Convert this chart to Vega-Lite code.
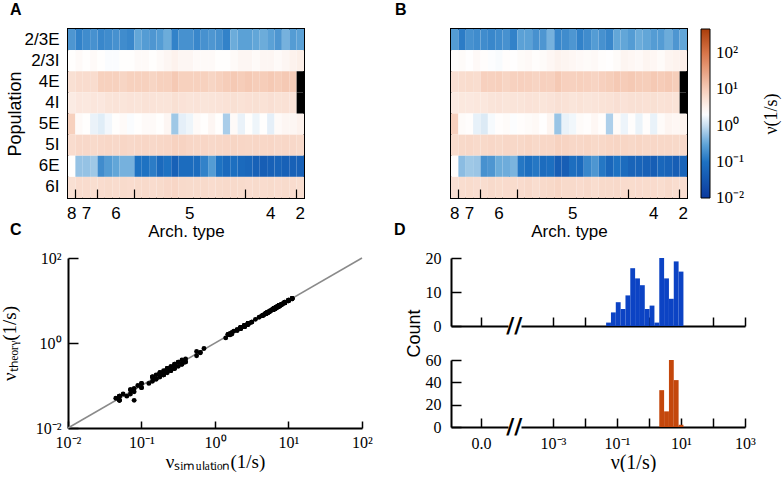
{
"$schema": "https://vega.github.io/schema/vega-lite/v6.json",
"padding": {"left": 0, "top": 1, "right": 0, "bottom": 0},
"bounds": "flush",
"columns": 2,
"spacing": {"row": 60, "column": 89},
"datasets": {
"cells": [
{"i":0,"p":"2/3E","a":0.224,"b":0.251},{"i":1,"p":"2/3E","a":0.141,"b":0.126},{"i":2,"p":"2/3E","a":0.178,"b":0.2},{"i":3,"p":"2/3E","a":0.2,"b":0.178},{"i":4,"p":"2/3E","a":0.158,"b":0.178},{"i":5,"p":"2/3E","a":0.178,"b":0.158},{"i":6,"p":"2/3E","a":0.2,"b":0.178},{"i":7,"p":"2/3E","a":0.178,"b":0.2},{"i":8,"p":"2/3E","a":0.158,"b":0.141},{"i":9,"p":"2/3E","a":0.316,"b":0.282},{"i":10,"p":"2/3E","a":0.251,"b":0.282},{"i":11,"p":"2/3E","a":0.224,"b":0.2},{"i":12,"p":"2/3E","a":0.251,"b":0.224},{"i":13,"p":"2/3E","a":0.355,"b":0.398},{"i":14,"p":"2/3E","a":0.141,"b":0.158},{"i":15,"p":"2/3E","a":0.2,"b":0.178},{"i":16,"p":"2/3E","a":0.2,"b":0.224},{"i":17,"p":"2/3E","a":0.158,"b":0.141},{"i":18,"p":"2/3E","a":0.2,"b":0.178},{"i":19,"p":"2/3E","a":0.224,"b":0.251},{"i":20,"p":"2/3E","a":0.2,"b":0.2},{"i":21,"p":"2/3E","a":0.141,"b":0.158},{"i":22,"p":"2/3E","a":0.355,"b":0.316},{"i":23,"p":"2/3E","a":0.282,"b":0.316},{"i":24,"p":"2/3E","a":0.282,"b":0.251},{"i":25,"p":"2/3E","a":0.316,"b":0.355},{"i":26,"p":"2/3E","a":0.355,"b":0.316},{"i":27,"p":"2/3E","a":0.282,"b":0.251},{"i":28,"p":"2/3E","a":0.224,"b":0.251},{"i":29,"p":"2/3E","a":0.398,"b":0.355},{"i":30,"p":"2/3E","a":0.251,"b":0.224},{"i":31,"p":"2/3E","a":0.282,"b":0.316},
{"i":0,"p":"2/3I","a":2.24,"b":2.3},{"i":1,"p":"2/3I","a":2.51,"b":2.45},{"i":2,"p":"2/3I","a":2.24,"b":2.2},{"i":3,"p":"2/3I","a":2.51,"b":2.55},{"i":4,"p":"2/3I","a":2.24,"b":2.3},{"i":5,"p":"2/3I","a":2.0,"b":2.05},{"i":6,"p":"2/3I","a":2.0,"b":1.95},{"i":7,"p":"2/3I","a":2.24,"b":2.3},{"i":8,"p":"2/3I","a":2.24,"b":2.2},{"i":9,"p":"2/3I","a":2.51,"b":2.45},{"i":10,"p":"2/3I","a":2.51,"b":2.55},{"i":11,"p":"2/3I","a":2.24,"b":2.3},{"i":12,"p":"2/3I","a":2.51,"b":2.45},{"i":13,"p":"2/3I","a":2.82,"b":2.75},{"i":14,"p":"2/3I","a":3.16,"b":3.1},{"i":15,"p":"2/3I","a":2.82,"b":2.9},{"i":16,"p":"2/3I","a":2.82,"b":2.75},{"i":17,"p":"2/3I","a":2.51,"b":2.55},{"i":18,"p":"2/3I","a":2.51,"b":2.45},{"i":19,"p":"2/3I","a":2.51,"b":2.55},{"i":20,"p":"2/3I","a":2.24,"b":2.3},{"i":21,"p":"2/3I","a":2.24,"b":2.2},{"i":22,"p":"2/3I","a":2.51,"b":2.45},{"i":23,"p":"2/3I","a":2.82,"b":2.9},{"i":24,"p":"2/3I","a":2.82,"b":2.75},{"i":25,"p":"2/3I","a":2.51,"b":2.55},{"i":26,"p":"2/3I","a":2.82,"b":2.9},{"i":27,"p":"2/3I","a":2.82,"b":2.75},{"i":28,"p":"2/3I","a":2.51,"b":2.45},{"i":29,"p":"2/3I","a":2.82,"b":2.9},{"i":30,"p":"2/3I","a":3.16,"b":3.1},{"i":31,"p":"2/3I","a":3.55,"b":3.6},
{"i":0,"p":"4E","a":5.62,"b":5.7},{"i":1,"p":"4E","a":6.31,"b":6.2},{"i":2,"p":"4E","a":6.31,"b":6.4},{"i":3,"p":"4E","a":6.31,"b":6.2},{"i":4,"p":"4E","a":8.91,"b":9.0},{"i":5,"p":"4E","a":8.91,"b":8.8},{"i":6,"p":"4E","a":8.91,"b":9.1},{"i":7,"p":"4E","a":7.94,"b":7.8},{"i":8,"p":"4E","a":8.91,"b":8.8},{"i":9,"p":"4E","a":8.91,"b":9.0},{"i":10,"p":"4E","a":8.91,"b":8.8},{"i":11,"p":"4E","a":7.94,"b":8.1},{"i":12,"p":"4E","a":8.91,"b":9.0},{"i":13,"p":"4E","a":8.91,"b":8.8},{"i":14,"p":"4E","a":11.2,"b":11.0},{"i":15,"p":"4E","a":8.91,"b":9.0},{"i":16,"p":"4E","a":8.91,"b":8.8},{"i":17,"p":"4E","a":8.91,"b":9.1},{"i":18,"p":"4E","a":8.91,"b":8.8},{"i":19,"p":"4E","a":7.94,"b":8.1},{"i":20,"p":"4E","a":8.91,"b":9.0},{"i":21,"p":"4E","a":10.0,"b":9.8},{"i":22,"p":"4E","a":11.2,"b":11.1},{"i":23,"p":"4E","a":10.0,"b":10.2},{"i":24,"p":"4E","a":11.2,"b":11.0},{"i":25,"p":"4E","a":10.0,"b":10.1},{"i":26,"p":"4E","a":10.0,"b":9.8},{"i":27,"p":"4E","a":11.2,"b":11.1},{"i":28,"p":"4E","a":10.0,"b":10.2},{"i":29,"p":"4E","a":11.2,"b":11.0},{"i":30,"p":"4E","a":10.0,"b":9.8},{"i":31,"p":"4E","a":null,"b":null},
{"i":0,"p":"4I","a":3.98,"b":4.05},{"i":1,"p":"4I","a":4.47,"b":4.4},{"i":2,"p":"4I","a":4.3,"b":4.35},{"i":3,"p":"4I","a":4.6,"b":4.55},{"i":4,"p":"4I","a":4.47,"b":4.5},{"i":5,"p":"4I","a":4.9,"b":4.95},{"i":6,"p":"4I","a":5.1,"b":5.05},{"i":7,"p":"4I","a":4.8,"b":4.85},{"i":8,"p":"4I","a":5.01,"b":4.95},{"i":9,"p":"4I","a":4.9,"b":4.95},{"i":10,"p":"4I","a":5.25,"b":5.2},{"i":11,"p":"4I","a":5.1,"b":5.15},{"i":12,"p":"4I","a":4.9,"b":4.85},{"i":13,"p":"4I","a":5.0,"b":5.05},{"i":14,"p":"4I","a":5.62,"b":5.55},{"i":15,"p":"4I","a":5.2,"b":5.25},{"i":16,"p":"4I","a":4.9,"b":4.85},{"i":17,"p":"4I","a":5.1,"b":5.15},{"i":18,"p":"4I","a":4.8,"b":4.85},{"i":19,"p":"4I","a":5.0,"b":4.95},{"i":20,"p":"4I","a":5.1,"b":5.15},{"i":21,"p":"4I","a":5.3,"b":5.25},{"i":22,"p":"4I","a":5.62,"b":5.7},{"i":23,"p":"4I","a":5.25,"b":5.2},{"i":24,"p":"4I","a":5.5,"b":5.55},{"i":25,"p":"4I","a":5.62,"b":5.55},{"i":26,"p":"4I","a":5.3,"b":5.35},{"i":27,"p":"4I","a":5.7,"b":5.65},{"i":28,"p":"4I","a":5.25,"b":5.3},{"i":29,"p":"4I","a":5.4,"b":5.35},{"i":30,"p":"4I","a":5.1,"b":5.15},{"i":31,"p":"4I","a":null,"b":null},
{"i":0,"p":"5E","a":8.91,"b":9.0},{"i":1,"p":"5E","a":2.51,"b":2.45},{"i":2,"p":"5E","a":2.24,"b":2.3},{"i":3,"p":"5E","a":1.6,"b":1.55},{"i":4,"p":"5E","a":1.4,"b":1.32},{"i":5,"p":"5E","a":1.8,"b":1.9},{"i":6,"p":"5E","a":2.24,"b":2.3},{"i":7,"p":"5E","a":2.51,"b":2.45},{"i":8,"p":"5E","a":2.0,"b":2.05},{"i":9,"p":"5E","a":2.24,"b":2.3},{"i":10,"p":"5E","a":2.51,"b":2.45},{"i":11,"p":"5E","a":2.51,"b":2.6},{"i":12,"p":"5E","a":2.24,"b":2.2},{"i":13,"p":"5E","a":2.82,"b":2.9},{"i":14,"p":"5E","a":0.631,"b":0.59},{"i":15,"p":"5E","a":1.5,"b":1.58},{"i":16,"p":"5E","a":1.7,"b":1.78},{"i":17,"p":"5E","a":2.51,"b":2.45},{"i":18,"p":"5E","a":2.24,"b":2.3},{"i":19,"p":"5E","a":2.82,"b":2.75},{"i":20,"p":"5E","a":2.24,"b":2.3},{"i":21,"p":"5E","a":0.708,"b":0.74},{"i":22,"p":"5E","a":2.51,"b":2.45},{"i":23,"p":"5E","a":1.6,"b":1.68},{"i":24,"p":"5E","a":2.24,"b":2.3},{"i":25,"p":"5E","a":1.7,"b":1.62},{"i":26,"p":"5E","a":2.24,"b":2.3},{"i":27,"p":"5E","a":1.5,"b":1.58},{"i":28,"p":"5E","a":2.51,"b":2.45},{"i":29,"p":"5E","a":2.82,"b":2.9},{"i":30,"p":"5E","a":2.82,"b":2.75},{"i":31,"p":"5E","a":3.16,"b":3.1},
{"i":0,"p":"5I","a":6.31,"b":6.4},{"i":1,"p":"5I","a":7.08,"b":7.0},{"i":2,"p":"5I","a":7.08,"b":7.2},{"i":3,"p":"5I","a":6.8,"b":6.7},{"i":4,"p":"5I","a":7.08,"b":7.0},{"i":5,"p":"5I","a":7.3,"b":7.4},{"i":6,"p":"5I","a":7.08,"b":7.0},{"i":7,"p":"5I","a":7.5,"b":7.4},{"i":8,"p":"5I","a":7.08,"b":7.2},{"i":9,"p":"5I","a":7.3,"b":7.2},{"i":10,"p":"5I","a":7.5,"b":7.6},{"i":11,"p":"5I","a":7.08,"b":7.0},{"i":12,"p":"5I","a":7.3,"b":7.4},{"i":13,"p":"5I","a":7.5,"b":7.4},{"i":14,"p":"5I","a":8.5,"b":8.6},{"i":15,"p":"5I","a":8.2,"b":8.1},{"i":16,"p":"5I","a":7.5,"b":7.4},{"i":17,"p":"5I","a":7.3,"b":7.4},{"i":18,"p":"5I","a":7.5,"b":7.6},{"i":19,"p":"5I","a":7.08,"b":7.0},{"i":20,"p":"5I","a":7.3,"b":7.2},{"i":21,"p":"5I","a":7.5,"b":7.6},{"i":22,"p":"5I","a":7.9,"b":7.8},{"i":23,"p":"5I","a":7.5,"b":7.6},{"i":24,"p":"5I","a":7.3,"b":7.2},{"i":25,"p":"5I","a":7.5,"b":7.6},{"i":26,"p":"5I","a":7.3,"b":7.2},{"i":27,"p":"5I","a":7.5,"b":7.4},{"i":28,"p":"5I","a":7.08,"b":7.2},{"i":29,"p":"5I","a":7.3,"b":7.2},{"i":30,"p":"5I","a":7.08,"b":7.0},{"i":31,"p":"5I","a":6.8,"b":6.9},
{"i":0,"p":"6E","a":2.24,"b":2.3},{"i":1,"p":"6E","a":0.562,"b":0.5},{"i":2,"p":"6E","a":0.562,"b":0.63},{"i":3,"p":"6E","a":0.631,"b":0.6},{"i":4,"p":"6E","a":0.178,"b":0.2},{"i":5,"p":"6E","a":0.251,"b":0.224},{"i":6,"p":"6E","a":0.316,"b":0.355},{"i":7,"p":"6E","a":0.398,"b":0.36},{"i":8,"p":"6E","a":0.398,"b":0.42},{"i":9,"p":"6E","a":0.1,"b":0.112},{"i":10,"p":"6E","a":0.1,"b":0.0891},{"i":11,"p":"6E","a":0.126,"b":0.112},{"i":12,"p":"6E","a":0.0708,"b":0.0794},{"i":13,"p":"6E","a":0.1,"b":0.0891},{"i":14,"p":"6E","a":0.0501,"b":0.0447},{"i":15,"p":"6E","a":0.0794,"b":0.0447},{"i":16,"p":"6E","a":0.0794,"b":0.0851},{"i":17,"p":"6E","a":0.0794,"b":0.0708},{"i":18,"p":"6E","a":0.141,"b":0.158},{"i":19,"p":"6E","a":0.251,"b":0.224},{"i":20,"p":"6E","a":0.1,"b":0.112},{"i":21,"p":"6E","a":0.0708,"b":0.0631},{"i":22,"p":"6E","a":0.0891,"b":0.1},{"i":23,"p":"6E","a":0.0708,"b":0.0794},{"i":24,"p":"6E","a":0.0631,"b":0.0562},{"i":25,"p":"6E","a":0.0501,"b":0.0562},{"i":26,"p":"6E","a":0.0447,"b":0.0501},{"i":27,"p":"6E","a":0.0501,"b":0.0447},{"i":28,"p":"6E","a":0.0562,"b":0.0631},{"i":29,"p":"6E","a":0.0501,"b":0.0562},{"i":30,"p":"6E","a":0.0501,"b":0.0447},{"i":31,"p":"6E","a":0.0501,"b":0.0562},
{"i":0,"p":"6I","a":5.62,"b":5.7},{"i":1,"p":"6I","a":6.31,"b":6.2},{"i":2,"p":"6I","a":6.31,"b":6.4},{"i":3,"p":"6I","a":6.0,"b":6.1},{"i":4,"p":"6I","a":6.31,"b":6.2},{"i":5,"p":"6I","a":6.6,"b":6.7},{"i":6,"p":"6I","a":6.31,"b":6.4},{"i":7,"p":"6I","a":6.6,"b":6.5},{"i":8,"p":"6I","a":6.31,"b":6.4},{"i":9,"p":"6I","a":6.6,"b":6.5},{"i":10,"p":"6I","a":6.8,"b":6.9},{"i":11,"p":"6I","a":6.31,"b":6.2},{"i":12,"p":"6I","a":6.6,"b":6.7},{"i":13,"p":"6I","a":7.08,"b":7.0},{"i":14,"p":"6I","a":7.5,"b":7.6},{"i":15,"p":"6I","a":6.8,"b":6.7},{"i":16,"p":"6I","a":6.6,"b":6.7},{"i":17,"p":"6I","a":6.6,"b":6.5},{"i":18,"p":"6I","a":6.8,"b":6.9},{"i":19,"p":"6I","a":6.31,"b":6.2},{"i":20,"p":"6I","a":6.6,"b":6.7},{"i":21,"p":"6I","a":6.8,"b":6.7},{"i":22,"p":"6I","a":6.8,"b":6.9},{"i":23,"p":"6I","a":6.6,"b":6.5},{"i":24,"p":"6I","a":6.31,"b":6.4},{"i":25,"p":"6I","a":6.6,"b":6.5},{"i":26,"p":"6I","a":6.31,"b":6.4},{"i":27,"p":"6I","a":6.6,"b":6.5},{"i":28,"p":"6I","a":6.31,"b":6.2},{"i":29,"p":"6I","a":6.6,"b":6.7},{"i":30,"p":"6I","a":6.31,"b":6.2},{"i":31,"p":"6I","a":6.0,"b":6.1}
],
"hist": [
{"g":"E","lo":0.0457,"hi":0.0647,"n":1},{"g":"E","lo":0.0647,"hi":0.0916,"n":4},{"g":"E","lo":0.0916,"hi":0.130,"n":7},{"g":"E","lo":0.130,"hi":0.184,"n":5},{"g":"E","lo":0.184,"hi":0.260,"n":9},{"g":"E","lo":0.260,"hi":0.368,"n":17},{"g":"E","lo":0.368,"hi":0.521,"n":14},{"g":"E","lo":0.521,"hi":0.738,"n":12},{"g":"E","lo":0.738,"hi":1.045,"n":5},{"g":"E","lo":1.045,"hi":1.479,"n":6},{"g":"E","lo":1.479,"hi":2.094,"n":1},{"g":"E","lo":2.094,"hi":2.965,"n":20},{"g":"E","lo":2.965,"hi":4.198,"n":14},{"g":"E","lo":4.198,"hi":5.943,"n":8},{"g":"E","lo":5.943,"hi":8.414,"n":19},{"g":"E","lo":8.414,"hi":11.91,"n":16},
{"g":"I","lo":2.094,"hi":2.965,"n":33},{"g":"I","lo":2.965,"hi":4.198,"n":14},{"g":"I","lo":4.198,"hi":5.943,"n":60},{"g":"I","lo":5.943,"hi":8.414,"n":42},{"g":"I","lo":8.414,"hi":11.91,"n":2}
]
},
"concat": [
{
"width": 236, "height": 169,
"view": {"stroke": "black", "strokeWidth": 2},
"title": {"text": "A", "dx": -58, "offset": 11},
"data": {"name": "cells"},
"encoding": {"y": {"field": "p", "type": "nominal", "sort": ["2/3E","2/3I","4E","4I","5E","5I","6E","6I"], "axis": {"labelFont": "Liberation Sans", "labelFontSize": 17, "ticks": false, "domain": false, "labelPadding": 9, "title": "Population", "titleFont": "Liberation Sans", "titleFontSize": 18, "titlePadding": 0}}},
"layer": [
{"transform": [{"filter": "datum.a != null"}], "mark": "rect",
"encoding": {
"x": {"field": "i", "type": "ordinal", "axis": {"orient": "bottom", "values": [1,4,9,24,31], "bandPosition": 0, "labels": false, "tickSize": -9, "tickWidth": 1.2, "domain": false, "title": null, "zindex": 1}},
"color": {"field": "a", "type": "quantitative", "scale": {"type": "log", "domain": [0.01,0.1,0.316,1,2.15,10,100,470], "range": ["#0b3a9e","#1e72c2","#62a6d8","#c8def0","#ffffff","#f6cdb9","#d9764a","#aa3d0a"], "interpolate": "rgb"}, "legend": null}}},
{"transform": [{"filter": "datum.a == null"}], "mark": {"type": "rect", "color": "black"},
"encoding": {
"x": {"field": "i", "type": "ordinal", "axis": {"orient": "bottom", "values": [0,2,6,16,27,31], "ticks": false, "domain": false, "labelExpr": "datum.value == 0 ? '8' : datum.value == 2 ? '7' : datum.value == 6 ? '6' : datum.value == 16 ? '5' : datum.value == 27 ? '4' : '2'", "labelFont": "Liberation Sans", "labelFontSize": 17, "labelPadding": 7, "labelAngle": 0, "title": "Arch. type", "titleFont": "Liberation Sans", "titleFontSize": 17, "titlePadding": 2}}}}
],
"resolve": {"axis": {"x": "independent"}}
},
{
"width": 236, "height": 169,
"view": {"stroke": "black", "strokeWidth": 2},
"title": {"text": "B", "dx": -56, "offset": 11},
"data": {"name": "cells"},
"encoding": {"y": {"field": "p", "type": "nominal", "sort": ["2/3E","2/3I","4E","4I","5E","5I","6E","6I"], "axis": null}},
"layer": [
{"transform": [{"filter": "datum.b != null"}], "mark": "rect",
"encoding": {
"x": {"field": "i", "type": "ordinal", "axis": {"orient": "bottom", "values": [1,4,9,24,31], "bandPosition": 0, "labels": false, "tickSize": -9, "tickWidth": 1.2, "domain": false, "title": null, "zindex": 1}},
"color": {"field": "b", "type": "quantitative", "scale": {"type": "log", "domain": [0.01,0.1,0.316,1,2.15,10,100,470], "range": ["#0b3a9e","#1e72c2","#62a6d8","#c8def0","#ffffff","#f6cdb9","#d9764a","#aa3d0a"], "interpolate": "rgb"},
"legend": {"orient": "right", "offset": 14, "padding": 0, "direction": "vertical", "gradientLength": 169, "gradientThickness": 9, "gradientStrokeColor": "black", "gradientStrokeWidth": 1, "values": [0.01,0.1,1,10,100], "labelExpr": "datum.value < 0.05 ? '10⁻²' : datum.value < 0.5 ? '10⁻¹' : datum.value < 5 ? '10⁰' : datum.value < 50 ? '10¹' : '10²'", "labelFont": "Liberation Serif", "labelFontSize": 17, "labelColor": "black", "labelOffset": 6, "title": "ν(1/s)", "titleOrient": "right", "titleFont": "Liberation Serif", "titleFontSize": 18, "titleFontWeight": "normal", "titleColor": "black", "titlePadding": 37, "titleAnchor": "middle",
"encode": {"title": {"update": {"angle": {"value": 270}}}, "labels": {"update": {"baseline": {"value": "middle"}}}}}}}},
{"transform": [{"filter": "datum.b == null"}], "mark": {"type": "rect", "color": "black"},
"encoding": {
"x": {"field": "i", "type": "ordinal", "axis": {"orient": "bottom", "values": [0,2,6,16,27,31], "ticks": false, "domain": false, "labelExpr": "datum.value == 0 ? '8' : datum.value == 2 ? '7' : datum.value == 6 ? '6' : datum.value == 16 ? '5' : datum.value == 27 ? '4' : '2'", "labelFont": "Liberation Sans", "labelFontSize": 17, "labelPadding": 7, "labelAngle": 0, "title": "Arch. type", "titleFont": "Liberation Sans", "titleFontSize": 17, "titlePadding": 2}}}}
],
"resolve": {"axis": {"x": "independent"}}
},
{
"width": 294, "height": 170,
"title": {"text": "C", "dx": -58, "offset": 12},
"encoding": {
"x": {"field": "a", "type": "quantitative", "scale": {"type": "log", "domain": [0.01,100]}, "axis": {"values": [0.01,0.1,1,10,100], "labelExpr": "datum.value < 0.05 ? '10⁻²' : datum.value < 0.5 ? '10⁻¹' : datum.value < 5 ? '10⁰' : datum.value < 50 ? '10¹' : '10²'", "tickSize": -7, "labelPadding": 13, "title": "νₛᵢₘᵤₗₐₜᵢₒₙ(1/s)", "titleFont": "Liberation Serif", "titleFontSize": 19, "titlePadding": 2}},
"y": {"field": "b", "type": "quantitative", "scale": {"type": "log", "domain": [0.01,100]}, "axis": {"values": [0.01,1,100], "labelExpr": "datum.value < 0.05 ? '10⁻²' : datum.value < 5 ? '10⁰' : '10²'", "tickSize": -10, "labelPadding": 17, "title": "νₜₕₑₒᵣᵧ(1/s)", "titleFont": "Liberation Serif", "titleFontSize": 19, "titlePadding": 16}}
},
"layer": [
{"data": {"values": [{"a": 0.01, "b": 0.01, "a2": 100, "b2": 100}]}, "mark": {"type": "rule", "color": "#8a8a8a", "strokeWidth": 1.5},
"encoding": {"x2": {"field": "a2"}, "y2": {"field": "b2"}}},
{"data": {"name": "cells"}, "transform": [{"filter": "datum.a != null && datum.b != null"}], "mark": {"type": "circle", "size": 24, "color": "black", "opacity": 1}}
]
},
{
"columns": 2,
"bounds": "flush",
"spacing": {"row": 34, "column": 13},
"concat": [
{
"width": 57, "height": 68,
"title": {"text": "D", "dx": -57, "offset": 12},
"data": {"values": [{}]},
"mark": {"type": "point", "opacity": 0},
"encoding": {
"x": {"datum": 0, "type": "quantitative", "scale": {"domain": [-1, 0.9], "nice": false, "zero": false}, "axis": {"values": [0], "labels": false, "tickSize": -9, "title": null}},
"y": {"datum": 0, "type": "quantitative", "scale": {"domain": [0, 20], "nice": false}, "axis": {"values": [0,10,20], "tickSize": -10, "labelPadding": 20, "title": "Count", "titleFont": "Liberation Sans", "titleFontSize": 18, "titleY": 75, "titlePadding": 2}}}
},
{
"width": 224, "height": 68,
"layer": [
{"data": {"name": "hist"}, "transform": [{"filter": "datum.g == 'E'"}], "mark": {"type": "rect", "color": "#0c43c4"},
"encoding": {
"x": {"field": "lo", "type": "quantitative", "scale": {"type": "log", "domain": [0.0001, 1000]}, "axis": {"values": [0.001,0.01,0.1,1,10,100,1000], "labels": false, "tickSize": -9, "title": null}},
"x2": {"field": "hi"},
"y": {"field": "n", "type": "quantitative", "scale": {"domain": [0, 20], "nice": false}, "axis": null},
"y2": {"datum": 0}}},
{"data": {"values": [{}]}, "mark": {"type": "text", "text": "//", "fontSize": 22, "fontWeight": "bold", "font": "DejaVu Sans"},
"encoding": {"x": {"datum": 0.000062, "type": "quantitative"}, "y": {"datum": 0, "type": "quantitative"}}}
]
},
{
"width": 57, "height": 67,
"data": {"values": [{}]},
"mark": {"type": "point", "opacity": 0},
"encoding": {
"x": {"datum": 0, "type": "quantitative", "scale": {"domain": [-1, 0.9], "nice": false, "zero": false}, "axis": {"values": [0], "labelExpr": "'0.0'", "tickSize": -9, "labelPadding": 17, "title": null}},
"y": {"datum": 0, "type": "quantitative", "scale": {"domain": [0, 60], "nice": false}, "axis": {"values": [0,20,40,60], "tickSize": -10, "labelPadding": 20, "title": null}}}
},
{
"width": 224, "height": 67,
"layer": [
{"data": {"name": "hist"}, "transform": [{"filter": "datum.g == 'I'"}], "mark": {"type": "rect", "color": "#c4470c"},
"encoding": {
"x": {"field": "lo", "type": "quantitative", "scale": {"type": "log", "domain": [0.0001, 1000]}, "axis": {"values": [0.001,0.01,0.1,1,10,100,1000], "labelExpr": "datum.value < 0.005 ? '10⁻³' : (datum.value > 0.05 && datum.value < 0.5) ? '10⁻¹' : (datum.value > 5 && datum.value < 50) ? '10¹' : datum.value > 500 ? '10³' : ''", "tickSize": -9, "labelPadding": 17, "title": "ν(1/s)", "titleFont": "Liberation Serif", "titleFontSize": 20, "titlePadding": 1}},
"x2": {"field": "hi"},
"y": {"field": "n", "type": "quantitative", "scale": {"domain": [0, 60], "nice": false}, "axis": null},
"y2": {"datum": 0}}},
{"data": {"values": [{}]}, "mark": {"type": "text", "text": "//", "fontSize": 22, "fontWeight": "bold", "font": "DejaVu Sans"},
"encoding": {"x": {"datum": 0.000062, "type": "quantitative"}, "y": {"datum": 0, "type": "quantitative"}}}
]
}
]
}
],
"resolve": {"scale": {"color": "independent"}, "legend": {"color": "independent"}},
"config": {
"view": {"stroke": null},
"font": "Liberation Sans",
"axis": {"grid": false, "labelFlush": false, "labelOverlap": false, "labelColor": "black", "titleColor": "black", "tickColor": "black", "domainColor": "black", "domainWidth": 2, "tickWidth": 1.5, "titleFontWeight": "normal", "labelFont": "Liberation Serif", "labelFontSize": 16, "zindex": 1},
"title": {"anchor": "start", "frame": "group", "font": "Liberation Sans", "fontSize": 16, "fontWeight": "bold", "baseline": "alphabetic", "color": "black"}
}
}
